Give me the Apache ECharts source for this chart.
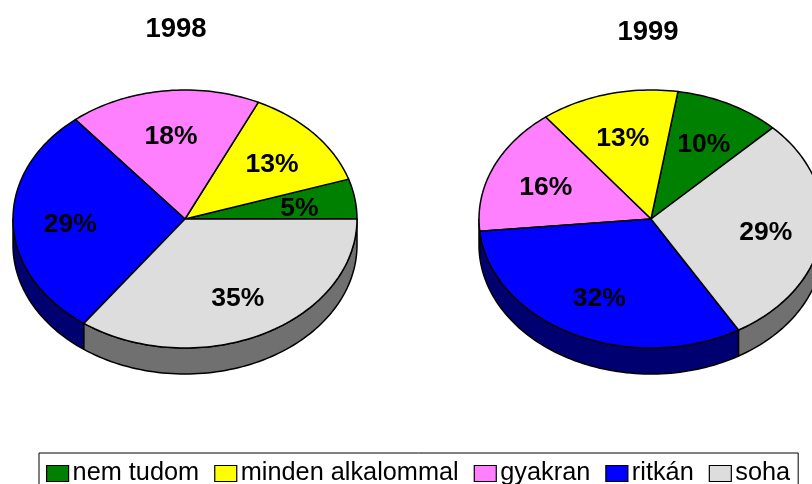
<!DOCTYPE html>
<html><head><meta charset="utf-8">
<style>html,body{margin:0;padding:0;background:#fff;overflow:hidden}#c{width:812px;height:484px}</style>
<script src="https://cdn.jsdelivr.net/npm/echarts@6/dist/echarts.min.js"></script>
</head><body><div id="c"></div>
<script>
const categories = ['nem tudom', 'minden alkalommal', 'gyakran', 'ritkán', 'soha'];
const years = ['1998', '1999'];
const values1998 = [5, 13, 18, 29, 35];
const values1999 = [10, 13, 16, 32, 29];
const topColors = ['#008000', '#FFFF00', '#FF80FF', '#0000FF', '#DDDDDD'];
const sideColors = ['#004000', '#808000', '#804080', '#000070', '#707070'];
const startAngles = [0, 45];
const centers = [[185, 219], [651, 219]];
const titleX = [176, 648];
const titleTop = [15, 18];
const RX = 172, RY = 129, DEPTH = 26, LABEL_R = 0.67;

const allValues = [values1998, values1999];
function arcPoints(cx, cy, a0, a1) {
  const pts = [];
  const n = Math.max(2, Math.ceil((a1 - a0) / 1.5));
  for (let i = 0; i <= n; i++) {
    const a = (a0 + (a1 - a0) * i / n) * Math.PI / 180;
    pts.push([cx + RX * Math.cos(a), cy - RY * Math.sin(a)]);
  }
  return pts;
}
function renderItem(params, api) {
  const y = api.value(0), val = api.value(1), before = api.value(2);
  const [cx, cy] = centers[y];
  const a0 = startAngles[y] + before * 3.6, a1 = a0 + val * 3.6;
  const style = { stroke: '#000', lineWidth: 1.5, lineJoin: 'round' };
  const children = [];
  [[180, 360], [540, 720]].forEach(([f0, f1]) => {
    const s0 = Math.max(a0, f0), s1 = Math.min(a1, f1);
    if (s1 > s0) {
      const up = arcPoints(cx, cy, s0, s1);
      const down = arcPoints(cx, cy + DEPTH, s0, s1).reverse();
      children.push({ type: 'polygon', z2: 1, shape: { points: up.concat(down) },
        style: Object.assign({ fill: sideColors[params.seriesIndex] }, style) });
    }
  });
  children.push({ type: 'polygon', z2: 2, shape: { points: [[cx, cy]].concat(arcPoints(cx, cy, a0, a1)) },
    style: Object.assign({ fill: topColors[params.seriesIndex] }, style) });
  const mid = (a0 + a1) / 2 * Math.PI / 180;
  children.push({ type: 'text', z2: 10, style: {
    x: cx + RX * LABEL_R * Math.cos(mid) + 0.5, y: cy - RY * LABEL_R * Math.sin(mid) + 3,
    text: val + '%', fill: '#000', align: 'center', verticalAlign: 'middle',
    font: 'bold 26.5px "Liberation Sans", Arial, sans-serif' } });
  return { type: 'group', children };
}
const series = categories.map((name, i) => ({
  name, type: 'custom', coordinateSystem: 'none', renderItem, silent: true, clip: false,
  itemStyle: { color: topColors[i] },
  data: allValues.map((vals, y) => [y, vals[i], vals.slice(0, i).reduce((a, b) => a + b, 0)])
}));
const chart = echarts.init(document.getElementById('c'), null, { renderer: 'canvas', width: 812, height: 484 });
chart.setOption({
  animation: false,
  backgroundColor: '#fff',
  title: years.map((t, i) => ({
    text: t, left: titleX[i], top: titleTop[i], textAlign: 'center', padding: 0,
    textStyle: { fontFamily: '"Liberation Sans", Arial, sans-serif', fontWeight: 'bold', fontSize: 27.5, color: '#000' }
  })),
  legend: {
    data: categories, left: 39, top: 453, orient: 'horizontal', icon: 'rect',
    itemWidth: 22, itemHeight: 16, itemGap: 15,
    padding: [8, 8, 12, 7], borderColor: '#000', borderWidth: 1, backgroundColor: '#fff',
    itemStyle: { borderColor: '#000', borderWidth: 1.2 },
    selectedMode: false,
    textStyle: { fontFamily: '"Liberation Sans", Arial, sans-serif', fontSize: 25.3, color: '#000', padding: [2, 0, 0, -1] }
  },
  series
});
</script></body></html>
